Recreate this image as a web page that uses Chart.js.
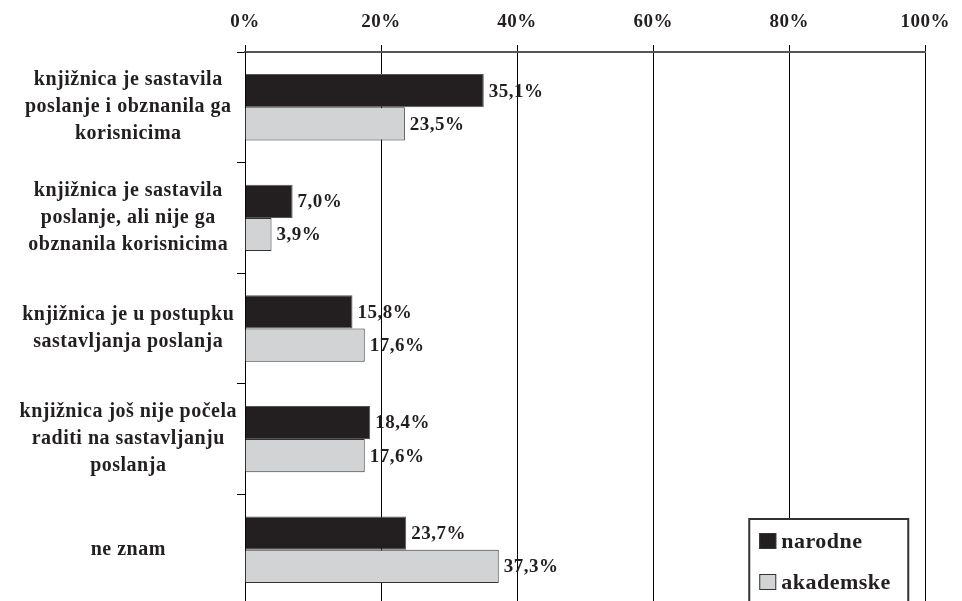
<!DOCTYPE html>
<html>
<head>
<meta charset="utf-8">
<script src="https://cdn.jsdelivr.net/npm/chart.js@4/dist/chart.umd.min.js"></script>
<style>
  html, body { margin: 0; padding: 0; background: #fff; overflow: hidden; }
  #wrap { width: 962px; height: 610px; position: relative; }
</style>
</head>
<body>
<div id="wrap"><canvas id="chart"></canvas></div>
<script>
const categories = [
  ["knjižnica je sastavila", "poslanje i obznanila ga", "korisnicima"],
  ["knjižnica je sastavila", "poslanje, ali nije ga", "obznanila korisnicima"],
  ["knjižnica je u postupku", "sastavljanja poslanja"],
  ["knjižnica još nije počela", "raditi na sastavljanju", "poslanja"],
  "ne znam",
];
const narodne = [35.1, 7.0, 15.8, 18.4, 23.7];
const akademske = [23.5, 3.9, 17.6, 17.6, 37.3];
const seriesNames = ["narodne", "akademske"];

const ink = "#231f20";
const serif = "'Liberation Serif', 'Times New Roman', serif";

const fmt = (v) => v.toFixed(1).replace(".", ",") + "%";

const spacing = {
  id: "letter_spacing",
  beforeUpdate: (chart) => { chart.ctx.letterSpacing = "0.5px"; },
  beforeDraw: (chart) => { chart.ctx.letterSpacing = "0.5px"; },
};

const valueLabels = {
  id: "value_labels",
  afterDatasetsDraw: (chart) => {
    const { ctx } = chart;
    ctx.save();
    ctx.font = "bold 19px " + serif;
    ctx.fillStyle = ink;
    ctx.textAlign = "left";
    ctx.textBaseline = "middle";
    chart.data.datasets.forEach((ds, i) => {
      chart.getDatasetMeta(i).data.forEach((bar, j) => {
        ctx.fillText(fmt(ds.data[j]), bar.x + 5, bar.y + 1);
      });
    });
    ctx.restore();
  },
};

const boxLegend = {
  id: "box_legend",
  afterDraw: (chart) => {
    const { ctx, chartArea } = chart;
    const left = chartArea.right - 176;
    const top = 519;
    ctx.save();
    ctx.fillStyle = "#fff";
    ctx.fillRect(left, top, 159, 100);
    ctx.strokeStyle = "#333";
    ctx.lineWidth = 2;
    ctx.strokeRect(left, top, 159, 100);
    ctx.font = "bold 22px " + serif;
    ctx.textBaseline = "middle";
    chart.data.datasets.forEach((ds, i) => {
      const y = top + 22 + i * 41;
      ctx.fillStyle = ds.backgroundColor;
      ctx.fillRect(left + 10, y - 8, 17, 16);
      ctx.strokeStyle = "#333";
      ctx.lineWidth = 1;
      ctx.strokeRect(left + 10.5, y - 7.5, 16, 15);
      ctx.fillStyle = ink;
      ctx.fillText(ds.label, left + 32, y + 1);
    });
    ctx.restore();
  },
};

const canvas = document.getElementById("chart");
const chart = new Chart(canvas, {
  type: "bar",
  data: {
    labels: categories,
    datasets: [
      {
        label: seriesNames[0],
        data: narodne,
        backgroundColor: ink,
        borderColor: "#555",
        borderWidth: 1,
      },
      {
        label: seriesNames[1],
        data: akademske,
        backgroundColor: "#d1d3d4",
        borderColor: "#333",
        borderWidth: 1,
      },
    ],
  },
  options: {
    indexAxis: "y",
    responsive: true,
    maintainAspectRatio: false,
    animation: false,
    categoryPercentage: 0.6,
    barPercentage: 1.0,
    layout: {
      padding: { left: 0, right: 28, top: 0, bottom: 5 },
    },
    plugins: {
      legend: { display: false },
      tooltip: { enabled: false },
    },
    scales: {
      x: {
        position: "top",
        min: 0,
        max: 100,
        afterFit: (scale) => { scale.height = 52; },
        ticks: {
          stepSize: 20,
          padding: 12,
          color: ink,
          font: { family: serif, size: 19, weight: "bold" },
          callback: (v) => v + "%",
        },
        grid: {
          color: "#000",
          lineWidth: 1,
          tickLength: 7,
        },
        border: { color: "#555", width: 2 },
      },
      y: {
        afterFit: (scale) => {
          scale.width = 245;
          scale.paddingTop = 0;
          scale.paddingBottom = 0;
        },
        ticks: {
          crossAlign: "center",
          padding: 0,
          color: ink,
          font: { family: serif, size: 20, weight: "bold", lineHeight: 1.35 },
        },
        grid: {
          drawOnChartArea: false,
          offset: true,
          color: "#000",
          tickLength: 8,
        },
        border: { color: "#000", width: 1 },
      },
    },
  },
  plugins: [spacing, valueLabels, boxLegend],
});
</script>
</body>
</html>
